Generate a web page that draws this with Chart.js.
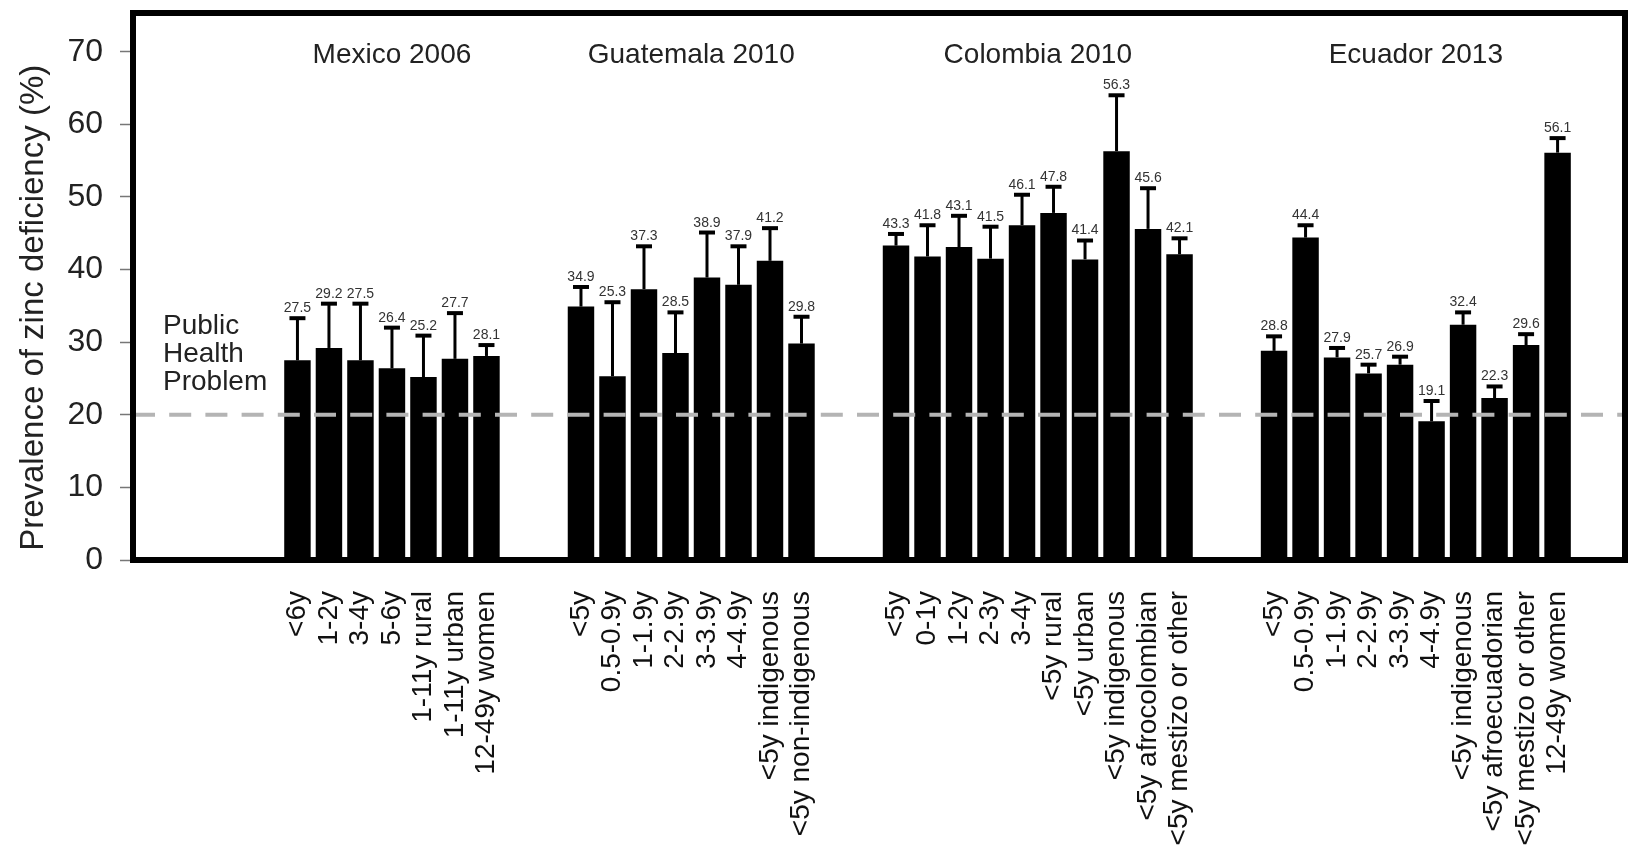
<!DOCTYPE html>
<html>
<head>
<meta charset="utf-8">
<title>Prevalence of zinc deficiency</title>
<script src="https://cdn.jsdelivr.net/npm/chart.js@4.4.1/dist/chart.umd.min.js"></script>
<style>
  html, body { margin: 0; padding: 0; background: #ffffff; }
  #wrap { width: 1628px; height: 847px; }
</style>
</head>
<body>
<div id="wrap"><canvas id="chart" width="1628" height="847"></canvas></div>
<script>
// Survey groups (country and year)
const groupTitles = ['Mexico 2006', 'Guatemala 2010', 'Colombia 2010', 'Ecuador 2013'];

// Mexico 2006
const mexicoLabels = ['<6y', '1-2y', '3-4y', '5-6y', '1-11y rural', '1-11y urban', '12-49y women'];
const mexicoValues = [27.5, 29.2, 27.5, 26.4, 25.2, 27.7, 28.1];
const mexicoUpper  = [33.3, 35.3, 35.3, 32.0, 30.9, 34.0, 29.6];

// Guatemala 2010
const guatemalaLabels = ['<5y', '0.5-0.9y', '1-1.9y', '2-2.9y', '3-3.9y', '4-4.9y', '<5y indigenous', '<5y non-indigenous'];
const guatemalaValues = [34.9, 25.3, 37.3, 28.5, 38.9, 37.9, 41.2, 29.8];
const guatemalaUpper  = [37.6, 35.5, 43.2, 34.1, 45.1, 43.2, 45.7, 33.5];

// Colombia 2010
const colombiaLabels = ['<5y', '0-1y', '1-2y', '2-3y', '3-4y', '<5y rural', '<5y urban', '<5y indigenous', '<5y afrocolombian', '<5y mestizo or other'];
const colombiaValues = [43.3, 41.8, 43.1, 41.5, 46.1, 47.8, 41.4, 56.3, 45.6, 42.1];
const colombiaUpper  = [44.9, 46.1, 47.4, 45.9, 50.3, 51.4, 44.0, 64.0, 51.2, 44.3];

// Ecuador 2013
const ecuadorLabels = ['<5y', '0.5-0.9y', '1-1.9y', '2-2.9y', '3-3.9y', '4-4.9y', '<5y indigenous', '<5y afroecuadorian', '<5y mestizo or other', '12-49y women'];
const ecuadorValues = [28.8, 44.4, 27.9, 25.7, 26.9, 19.1, 32.4, 22.3, 29.6, 56.1];
const ecuadorUpper  = [30.8, 46.1, 29.2, 26.9, 28.0, 21.9, 34.1, 23.9, 31.1, 58.1];

// Y axis ticks and the public-health cut-off
const yTicks = [0, 10, 20, 30, 40, 50, 60, 70];
const threshold = 20;
const thresholdLabel = ['Public', 'Health', 'Problem'];

// Lay the groups out on one slot axis, with two empty slots between groups
const groupSeries = [
  { labels: mexicoLabels,    values: mexicoValues,    upper: mexicoUpper },
  { labels: guatemalaLabels, values: guatemalaValues, upper: guatemalaUpper },
  { labels: colombiaLabels,  values: colombiaValues,  upper: colombiaUpper },
  { labels: ecuadorLabels,   values: ecuadorValues,   upper: ecuadorUpper }
];
const GROUP_GAP = 2;
const points = [];
const upperLimits = [];
const slotLabel = {};
const groupCentres = [];
let slot = 0;
groupSeries.forEach(g => {
  const first = slot;
  g.labels.forEach((lab, i) => {
    points.push({ x: slot, y: g.values[i] });
    upperLimits.push(g.upper[i]);
    slotLabel[slot] = lab;
    slot++;
  });
  groupCentres.push((first + slot - 1) / 2);
  slot += GROUP_GAP;
});

const FONT = "'Liberation Sans', Arial, Helvetica, sans-serif";

// Error bars, cut-off line, value labels, frame and group titles
const overlayPlugin = {
  id: 'overlay',
  afterDatasetsDraw(chart) {
    const { ctx, chartArea: a, scales: { x, y } } = chart;
    const meta = chart.getDatasetMeta(0);

    // dashed cut-off line
    ctx.save();
    ctx.strokeStyle = '#b4b4b4';
    ctx.lineWidth = 4;
    ctx.setLineDash([22, 14.2]);
    const ty = y.getPixelForValue(threshold);
    ctx.beginPath();
    ctx.moveTo(a.left, ty);
    ctx.lineTo(a.right, ty);
    ctx.stroke();
    ctx.restore();

    // upper error whiskers with value labels
    ctx.save();
    ctx.strokeStyle = '#000';
    meta.data.forEach((bar, i) => {
      const top = y.getPixelForValue(upperLimits[i]);
      ctx.lineWidth = 3;
      ctx.beginPath();
      ctx.moveTo(bar.x, bar.y);
      ctx.lineTo(bar.x, top);
      ctx.stroke();
      ctx.lineWidth = 4;
      ctx.beginPath();
      ctx.moveTo(bar.x - 8, top);
      ctx.lineTo(bar.x + 8, top);
      ctx.stroke();
      ctx.fillStyle = '#333';
      ctx.font = '14px ' + FONT;
      ctx.textAlign = 'center';
      ctx.textBaseline = 'alphabetic';
      ctx.fillText(points[i].y.toFixed(1), bar.x, top - 6);
    });
    ctx.restore();

    // frame round the plot area
    ctx.save();
    ctx.strokeStyle = '#000';
    ctx.lineWidth = 6;
    ctx.strokeRect(a.left, a.top, a.right - a.left, a.bottom - a.top);
    ctx.restore();

    // cut-off caption
    ctx.save();
    ctx.fillStyle = '#222';
    ctx.font = '28px ' + FONT;
    ctx.textAlign = 'left';
    ctx.textBaseline = 'alphabetic';
    const lines = thresholdLabel.length;
    thresholdLabel.forEach((t, i) => {
      ctx.fillText(t, a.left + 30, ty - 25 - (lines - 1 - i) * 28);
    });
    ctx.restore();

    // group titles, centred over each group
    ctx.save();
    ctx.fillStyle = '#222';
    ctx.font = '28px ' + FONT;
    ctx.textAlign = 'center';
    ctx.textBaseline = 'alphabetic';
    groupTitles.forEach((t, i) => {
      ctx.fillText(t, x.getPixelForValue(groupCentres[i]), a.top + 50);
    });
    ctx.restore();
  }
};

new Chart(document.getElementById('chart'), {
  type: 'bar',
  data: {
    datasets: [{
      data: points,
      backgroundColor: '#000',
      borderWidth: 0,
      categoryPercentage: 1,
      barPercentage: 0.84
    }]
  },
  options: {
    responsive: false,
    animation: false,
    devicePixelRatio: 1,
    layout: { padding: { top: 13, right: 3, left: 0, bottom: 0 } },
    plugins: {
      legend: { display: false },
      tooltip: { enabled: false }
    },
    scales: {
      x: {
        type: 'linear',
        min: -5.22,
        max: 42.14,
        offset: false,
        grid: { display: false, drawTicks: false },
        border: { display: false },
        afterBuildTicks: s => { s.ticks = points.map(p => ({ value: p.x })); },
        afterFit: s => { s.height = 287; s.paddingLeft = 0; s.paddingRight = 0; },
        ticks: {
          autoSkip: false,
          minRotation: 90,
          maxRotation: 90,
          padding: 31,
          color: '#111',
          font: { family: FONT, size: 28 },
          callback: v => slotLabel[v] ?? ''
        }
      },
      y: {
        min: 0,
        max: 75.33,
        afterBuildTicks: s => { s.ticks = yTicks.map(v => ({ value: v })); },
        afterFit: s => { s.width = 133; s.paddingTop = 0; s.paddingBottom = 0; },
        grid: { drawOnChartArea: false, tickLength: 13, tickWidth: 1.5, tickColor: '#777' },
        border: { display: false },
        ticks: {
          includeBounds: false,
          padding: 17,
          color: '#222',
          font: { family: FONT, size: 32 }
        },
        title: {
          display: true,
          text: ' Prevalence of zinc deficiency (%)',
          align: 'start',
          color: '#222',
          font: { family: FONT, size: 33 },
          padding: { top: 14, bottom: 0 }
        }
      }
    }
  },
  plugins: [overlayPlugin]
});
</script>
</body>
</html>
